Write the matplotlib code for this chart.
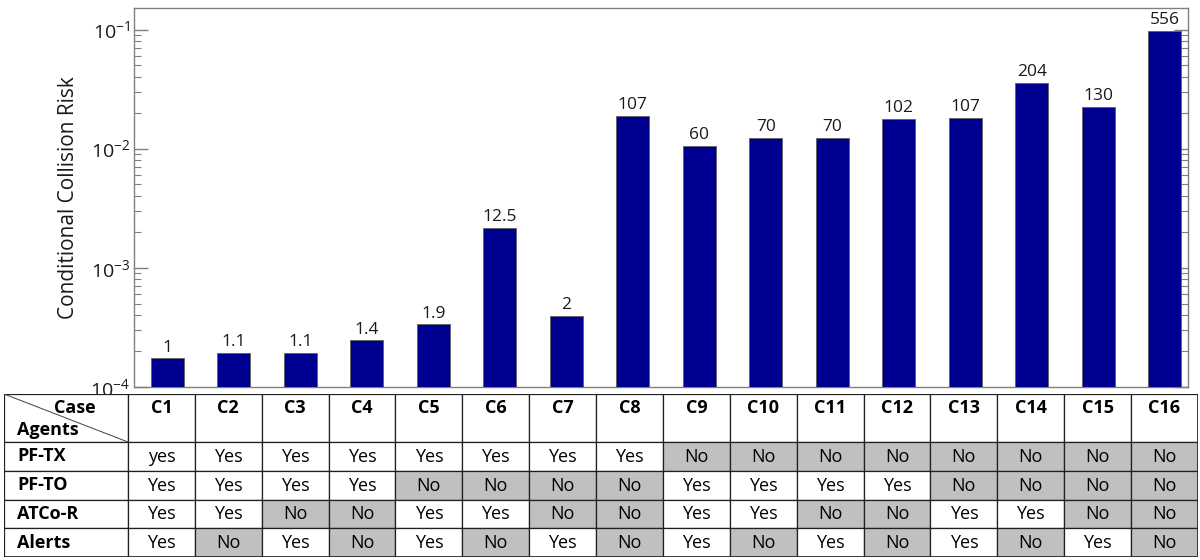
import matplotlib.pyplot as plt
import numpy as np
from matplotlib.patches import Rectangle

plt.rcParams['font.family'] = ['Open Sans', 'DejaVu Sans']
plt.rcParams['mathtext.fontset'] = 'custom'
plt.rcParams['mathtext.rm'] = 'Open Sans'
plt.rcParams['mathtext.it'] = 'Open Sans:italic'
plt.rcParams['mathtext.bf'] = 'Open Sans:bold'


CASES = ['C1', 'C2', 'C3', 'C4', 'C5', 'C6', 'C7', 'C8',
         'C9', 'C10', 'C11', 'C12', 'C13', 'C14', 'C15', 'C16']
RISK = [1.73e-4, 1.91e-4, 1.91e-4, 2.45e-4, 3.34e-4, 2.17e-3, 3.95e-4, 1.89e-2,
        1.06e-2, 1.236e-2, 1.236e-2, 1.78e-2, 1.82e-2, 3.56e-2, 2.25e-2, 9.82e-2]
RATIO_LABELS = ['1', '1.1', '1.1', '1.4', '1.9', '12.5', '2', '107',
                '60', '70', '70', '102', '107', '204', '130', '556']

AGENTS = ['PF-TX', 'PF-TO', 'ATCo-R', 'Alerts']
PF_TX = ['yes', 'Yes', 'Yes', 'Yes', 'Yes', 'Yes', 'Yes', 'Yes',
         'No', 'No', 'No', 'No', 'No', 'No', 'No', 'No']
PF_TO = ['Yes', 'Yes', 'Yes', 'Yes', 'No', 'No', 'No', 'No',
         'Yes', 'Yes', 'Yes', 'Yes', 'No', 'No', 'No', 'No']
ATCO_R = ['Yes', 'Yes', 'No', 'No', 'Yes', 'Yes', 'No', 'No',
          'Yes', 'Yes', 'No', 'No', 'Yes', 'Yes', 'No', 'No']
ALERTS = ['Yes', 'No', 'Yes', 'No', 'Yes', 'No', 'Yes', 'No',
          'Yes', 'No', 'Yes', 'No', 'Yes', 'No', 'Yes', 'No']

BAR_COLOR = '#000090'
GRAY = '#c0c0c0'
SPINE = '#808080'


def plot_bars(ax):
  x = np.arange(len(CASES))
  bars = ax.bar(x, RISK, 0.5, color=BAR_COLOR, edgecolor='#606060', linewidth=0.6, zorder=3)
  for rect, label in zip(bars, RATIO_LABELS):
    ax.annotate(label, (rect.get_x() + rect.get_width() / 2, rect.get_height()),
                xytext=(0, 2), textcoords='offset points', ha='center', va='bottom',
                fontsize=12.5, color='#1a1a1a')

  ax.set_yscale('log')
  ax.set_ylim(1e-4, 0.151)
  ax.set_xlim(-0.5, 15.35)
  ax.set_xticks([])
  ax.set_ylabel('Conditional Collision Risk', fontsize=15, color='#1a1a1a')
  ax.yaxis.set_label_coords(-0.052, 0.5)
  ax.tick_params(axis='y', which='both', direction='in', left=True, right=True,
                 colors=SPINE, labelcolor='#1a1a1a', labelsize=14)
  ax.tick_params(axis='y', which='major', length=10, width=1, pad=3)
  ax.tick_params(axis='y', which='minor', length=5, width=0.8)
  for spine in ax.spines.values():
    spine.set_color(SPINE)
    spine.set_linewidth(1)


def plot_table(tax):
  rows = [PF_TX, PF_TO, ATCO_R, ALERTS]
  n_cols = len(CASES)
  label_w = 1.854
  head_h = 1.67
  tax.set_xlim(-label_w, n_cols)
  tax.set_ylim(head_h + len(rows), 0)
  tax.axis('off')

  line = dict(edgecolor='#202020', linewidth=0.9)
  # header row with the split "Case / Agents" cell
  tax.add_patch(Rectangle((-label_w, 0), label_w, head_h, facecolor='white', **line))
  tax.plot([-label_w, 0], [0, head_h], color='#404040', linewidth=0.7)
  tax.text(-0.79, 0.48, 'Case', ha='center', va='center', fontsize=13, fontweight='bold')
  tax.text(-label_w + 0.2, 1.25, 'Agents', ha='left', va='center', fontsize=13, fontweight='bold')
  for j, case in enumerate(CASES):
    tax.add_patch(Rectangle((j, 0), 1, head_h, facecolor='white', **line))
    tax.text(j + 0.5, 0.48, case, ha='center', va='center', fontsize=13, fontweight='bold')

  for i, (agent, values) in enumerate(zip(AGENTS, rows)):
    y = head_h + i
    tax.add_patch(Rectangle((-label_w, y), label_w, 1, facecolor='white', **line))
    tax.text(-label_w + 0.2, y + 0.5, agent, ha='left', va='center', fontsize=13, fontweight='bold')
    for j, val in enumerate(values):
      fill = GRAY if val.lower() == 'no' else 'white'
      tax.add_patch(Rectangle((j, y), 1, 1, facecolor=fill, **line))
      tax.text(j + 0.5, y + 0.52, val, ha='center', va='center', fontsize=13)

  tax.add_patch(Rectangle((-label_w, 0), label_w + n_cols, head_h + len(rows),
                          facecolor='none', edgecolor='#202020', linewidth=1.2))


def main():
  fig = plt.figure(figsize=(12, 5.6), dpi=100, facecolor='w')
  ax = fig.add_axes([134 / 1200, 1 - 386.7 / 560, (1188 - 134) / 1200, (386.7 - 8.3) / 560])
  plot_bars(ax)
  tax = fig.add_axes([4 / 1200, 1 - 557 / 560, 1194 / 1200, 163 / 560])
  plot_table(tax)
  fig.savefig('out.png', dpi=100)


if __name__ == '__main__':
  main()
